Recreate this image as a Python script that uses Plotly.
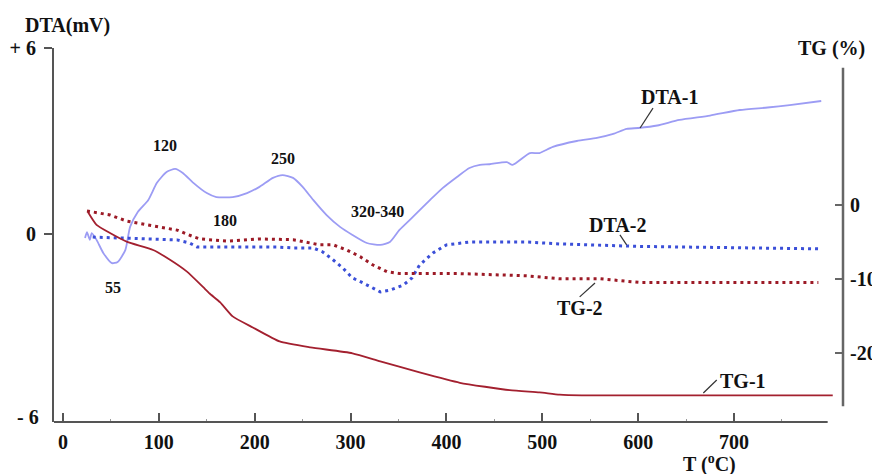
import plotly.graph_objects as go

# ---- data ----
t_dta1 = [23, 25, 28, 30, 35, 42, 51, 57, 65, 70, 78, 89, 98, 108, 117, 125, 136, 150, 160, 177,
          192, 205, 219, 229, 240, 250, 261, 275, 289, 302, 317, 331, 341, 351, 365, 383, 396, 411,
          424, 435, 445, 463, 469, 487, 497, 511, 536, 557, 574, 588, 600, 620, 643, 675, 706, 735,
          758, 791]
dta1 = [-0.13, 0.06, -0.19, 0.03, -0.19, -0.61, -0.94, -0.9, -0.52, 0.23, 0.71, 1.1, 1.65, 2.0,
        2.1, 1.97, 1.65, 1.32, 1.19, 1.19, 1.32, 1.52, 1.81, 1.9, 1.81, 1.52, 1.1, 0.61, 0.23,
        -0.03, -0.29, -0.35, -0.26, 0.13, 0.55, 1.1, 1.48, 1.84, 2.13, 2.23, 2.25, 2.32, 2.23,
        2.61, 2.61, 2.81, 3.0, 3.1, 3.23, 3.39, 3.42, 3.5, 3.68, 3.82, 4.0, 4.08, 4.16, 4.29]

t_dta2 = [31, 67, 119, 132, 140, 223, 240, 261, 271, 282, 292, 302, 313, 331, 341, 355, 364, 372,
          386, 400, 424, 484, 518, 600, 700, 789]
dta2 = [-0.1, -0.13, -0.19, -0.29, -0.42, -0.42, -0.45, -0.45, -0.58, -0.84, -1.1, -1.42, -1.58,
        -1.87, -1.81, -1.65, -1.42, -1.0, -0.61, -0.35, -0.26, -0.26, -0.32, -0.4, -0.45, -0.48]

t_tg1 = [26, 35, 49, 67, 94, 112, 129, 146, 153, 164, 177, 198, 226, 258, 302, 331, 372, 414,
         466, 497, 518, 541, 600, 700, 803]
tg1 = [-0.95, -2.7, -3.8, -5.0, -6.1, -7.45, -9.0, -11.1, -12.0, -13.2, -15.1, -16.6, -18.5,
       -19.3, -20.1, -21.2, -22.7, -24.1, -25.1, -25.4, -25.7, -25.8, -25.8, -25.8, -25.8]

t_tg2 = [25, 49, 67, 94, 119, 136, 143, 171, 205, 240, 268, 282, 296, 310, 323, 338, 351, 414,
         484, 518, 560, 602, 788]
tg2 = [-0.8, -1.35, -2.2, -2.84, -3.4, -4.3, -4.6, -4.9, -4.6, -4.7, -5.4, -5.4, -6.1, -7.0,
       -8.1, -9.05, -9.3, -9.3, -9.6, -10.0, -10.0, -10.5, -10.5]

x_ticks = [0, 100, 200, 300, 400, 500, 600, 700]
x_minor = [50, 150, 250, 350, 450, 550, 650, 750]
dta_ticks = [6, 0]
dta_ticktext = ["+ 6", "0"]
tg_ticks = [0, -10, -20]
tg_ticktext = ["0", "-10", "-20"]

FONT = "Liberation Serif"

fig = go.Figure()
fig.add_trace(go.Scatter(x=t_dta1, y=dta1, mode="lines", name="DTA-1",
                         line=dict(color="#9c9cf4", width=1.8, shape="spline", smoothing=0.6)))
fig.add_trace(go.Scatter(x=t_dta2, y=dta2, mode="lines", name="DTA-2",
                         line=dict(color="#3b4fd8", width=3, dash="3px,4px")))
fig.add_trace(go.Scatter(x=t_tg1, y=tg1, mode="lines", name="TG-1", yaxis="y2",
                         line=dict(color="#a3202f", width=1.8, shape="spline", smoothing=0.5)))
fig.add_trace(go.Scatter(x=t_tg2, y=tg2, mode="lines", name="TG-2", yaxis="y2",
                         line=dict(color="#9c1a26", width=3, dash="3px,4px")))

tickfont = dict(family=FONT, size=20, color="#111", weight="bold")

# the page body adds an 8px offset, so the figure is drawn 8px smaller/shifted
fig.update_layout(
    width=872, height=466,
    margin=dict(l=46, r=37, t=40, b=52, autoexpand=False),
    paper_bgcolor="white", plot_bgcolor="white",
    showlegend=False,
    xaxis=dict(range=[-9.39, 813.7], showline=False, showgrid=False, zeroline=False,
               automargin=False,
               tickvals=x_ticks, ticks="inside", ticklen=9, tickwidth=2, tickcolor="#555",
               tickfont=tickfont, ticklabelstandoff=6,
               minor=dict(tickvals=x_minor, ticks="inside", ticklen=3, tickwidth=1,
                          tickcolor="#999", showgrid=False)),
    yaxis=dict(range=[-6.065, 6.0], showline=True, linecolor="#555", linewidth=2,
               automargin=False,
               showgrid=False, zeroline=False, tickvals=dta_ticks, ticktext=dta_ticktext,
               ticks="outside", ticklen=8, tickwidth=2, tickcolor="#555", tickfont=tickfont,
               ticklabelstandoff=4),
    yaxis2=dict(range=[-29.42, 21.29], overlaying="y", side="right", showline=False,
                automargin=False,
                showgrid=False, zeroline=False, tickvals=tg_ticks, ticktext=tg_ticktext,
                ticks="inside", ticklen=8, tickwidth=2, tickcolor="#666", tickfont=tickfont,
                ticklabelstandoff=6),
)

# axis lines of limited extent
fig.add_shape(type="line", xref="x", yref="paper", x0=-9.39, x1=797.7, y0=0, y1=0,
              line=dict(color="#555", width=2))
fig.add_shape(type="line", xref="paper", yref="y2", x0=1, x1=1, y0=-27.3, y1=18.6,
              line=dict(color="#666", width=2.5))

# leader lines
for (xa, ya, xb, yb) in [(615.5, 4.06, 602, 3.42), (581, -0.03, 588, -0.35),
                         (539, -2.03, 555, -1.58), (668, -5.13, 682, -4.71)]:
    fig.add_shape(type="line", xref="x", yref="y", x0=xa, y0=ya, x1=xb, y1=yb,
                  line=dict(color="#333", width=1.2))

small = dict(family=FONT, size=16, color="#111", weight="bold")
big = dict(family=FONT, size=20, color="#111", weight="bold")
for txt, x, y, f in [("120", 106.4, 2.87, small), ("250", 229.5, 2.45, small),
                     ("180", 169, 0.45, small), ("55", 52, -1.71, small),
                     ("320-340", 327.6, 0.71, small), ("DTA-1", 633, 4.42, big),
                     ("DTA-2", 578, 0.29, big), ("TG-2", 539, -2.39, big),
                     ("TG-1", 709, -4.74, big)]:
    fig.add_annotation(x=x, y=y, xref="x", yref="y", text=txt, showarrow=False, font=f,
                       xanchor="center", yanchor="middle")

for txt, x, y in [("DTA(mV)", 0.0165, 1.059), ("TG (%)", 0.986, 1.0), ("- 6", -0.033, 0.0134),
                  ("T (<sup>o</sup>C)", 0.831, -0.11)]:
    fig.add_annotation(x=x, y=y, xref="paper", yref="paper", text=txt, showarrow=False,
                       font=big, xanchor="center", yanchor="middle")

fig.write_html("out.html")
